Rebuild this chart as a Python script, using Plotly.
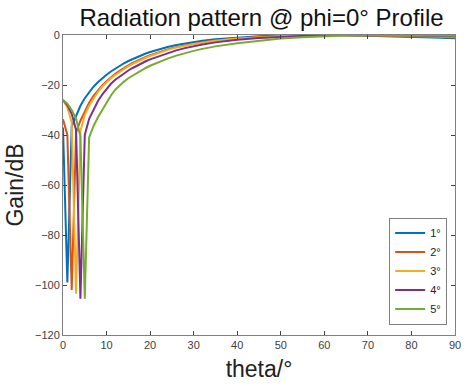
import plotly.graph_objects as go

theta = [0, 1, 2, 3, 4, 5, 6, 7, 8, 9, 10, 11, 12, 13, 14, 15, 16, 17, 18, 19, 20,
         22, 24, 26, 28, 30, 32, 35, 40, 45, 50, 55, 60, 65, 70, 75, 80, 85, 90]

g1 = [-37, -99, -36.5, -32, -28.3, -25.3, -22.8, -20.7, -18.9, -17.3, -15.9, -14.6, -13.4,
      -12.3, -11.3, -10.4, -9.6, -8.8, -8.1, -7.4, -6.8,
      -5.7, -4.8, -4.0, -3.4, -2.8, -2.3, -1.7, -1.0, -0.5, -0.2, -0.05, 0.0, -0.1, -0.25,
      -0.45, -0.7, -1.0, -1.3]
g2 = [-33.7, -40, -102, -39, -34.3, -30.5, -27.1, -24.3, -22.1, -20.2, -18.5, -16.8, -15.5,
      -14.3, -13.1, -12.1, -11.2, -10.3, -9.5, -8.8, -8.1,
      -6.8, -5.75, -4.85, -4.1, -3.5, -2.9, -2.2, -1.35, -0.75, -0.35, -0.12, -0.02, 0.0,
      -0.1, -0.25, -0.45, -0.7, -1.0]
g3 = [-26, -29, -35, -103.5, -38.5, -32, -28.3, -25.3, -22.8, -20.7, -18.9, -17.35, -16.0,
      -14.75, -13.6, -12.5, -11.55, -10.65, -9.85, -9.1, -8.4,
      -7.05, -5.95, -5.05, -4.25, -3.6, -3.05, -2.3, -1.4, -0.85, -0.45, -0.18, -0.05, 0.0,
      -0.05, -0.15, -0.3, -0.5, -0.7]
g4 = [-26, -28, -31.5, -38, -105.5, -40, -33.5, -29.8, -26.5, -23.8, -21.5, -19.5, -17.9,
      -16.6, -15.4, -14.2, -13.2, -12.2, -11.3, -10.5, -9.75,
      -8.45, -7.2, -6.15, -5.25, -4.45, -3.8, -2.95, -1.9, -1.2, -0.7, -0.35, -0.12, -0.02,
      0.0, -0.05, -0.15, -0.3, -0.5]
g5 = [-26, -27.5, -30, -33.5, -40.5, -105.5, -41, -36.5, -33, -30.1, -27.0, -24.2, -21.9,
      -20.1, -18.65, -17.3, -16.2, -15.1, -14.1, -13.2, -12.3,
      -10.8, -9.45, -8.25, -7.2, -6.35, -5.55, -4.55, -3.3, -2.2, -1.4, -0.85, -0.45, -0.2,
      -0.05, 0.0, -0.05, -0.15, -0.3]

series = [g1, g2, g3, g4, g5]
names = ["1°", "2°", "3°", "4°", "5°"]
colors = ["#0072BD", "#D95319", "#EDB120", "#7E2F8E", "#77AC30"]

x_ticks = list(range(0, 91, 10))
y_ticks = list(range(-120, 1, 20))

FONT = "Liberation Sans, Arial, Helvetica"

fig = go.Figure()
for vals, nm, c in zip(series, names, colors):
    fig.add_trace(go.Scatter(x=theta, y=vals, mode="lines", name=nm,
                             line=dict(color=c, width=2)))

axis_common = dict(showgrid=False, zeroline=False, showline=True, linecolor="#808080",
                   linewidth=1, mirror="ticks", ticks="inside", ticklen=4,
                   tickcolor="#404040", ticklabeloverflow="allow",
                   tickfont=dict(family=FONT, size=11, color="#404040"))
fig.update_layout(
    width=467, height=386,
    margin=dict(l=63, r=6, t=35, b=51),
    paper_bgcolor="white", plot_bgcolor="white",
    title=dict(text="Radiation pattern @ phi=0° Profile", x=0.56, xanchor="center",
               y=0.955, yanchor="middle",
               font=dict(family=FONT, size=24, color="#111111")),
    xaxis=dict(range=[0, 90], tickvals=x_ticks,
               title=dict(text="theta/°", standoff=10,
                          font=dict(family=FONT, size=23, color="#222222")),
               **axis_common),
    yaxis=dict(range=[-120, 0], tickvals=y_ticks,
               title=dict(text="Gain/dB", standoff=4,
                          font=dict(family=FONT, size=23, color="#222222")),
               **axis_common),
    legend=dict(x=0.98, y=0.035, xanchor="right", yanchor="bottom",
                bgcolor="white", bordercolor="#808080", borderwidth=1,
                font=dict(family=FONT, size=11, color="#222222"),
                itemwidth=30, tracegroupgap=0),
    showlegend=True,
)

fig.write_html("out.html")
